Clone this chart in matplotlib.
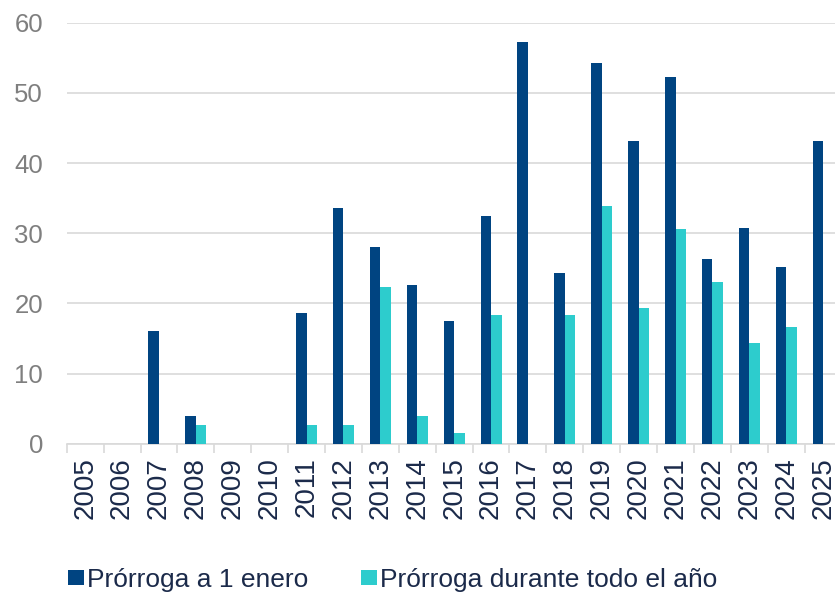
import matplotlib
matplotlib.use("Agg")
import matplotlib.pyplot as plt
from matplotlib.patches import Patch
import numpy as np

years = [str(y) for y in range(2005, 2026)]
prorroga_enero = [0, 0, 16.0, 3.9, 0, 0, 18.6, 33.6, 28.1, 22.6, 17.5,
                  32.4, 57.3, 24.3, 54.2, 43.2, 52.2, 26.3, 30.8, 25.2, 43.2]
prorroga_anio = [0, 0, 0, 2.6, 0, 0, 2.6, 2.6, 22.3, 3.9, 1.5,
                 18.4, 0, 18.4, 33.9, 19.3, 30.6, 23.0, 14.4, 16.6, 0]
series_labels = ["Prórroga a 1 enero", "Prórroga durante todo el año"]
yticks = [0, 10, 20, 30, 40, 50, 60]

navy = "#004481"
aqua = "#2dcccd"
text_dark = "#1b2a4a"
grid_grey = "#d9d9d9"

plt.rcParams["font.family"] = ["Liberation Sans", "DejaVu Sans"]

fig = plt.figure(figsize=(8.35, 5.93), dpi=100)
ax = fig.add_axes([66.7 / 835, 1 - 443.7 / 593, (841.6 - 66.7) / 835, (443.7 - 22.7) / 593])

x = np.arange(len(years))
w = 0.285
ax.bar(x - w / 2, prorroga_enero, width=w, color=navy, zorder=3)
ax.bar(x + w / 2, prorroga_anio, width=w, color=aqua, zorder=3)

ax.set_xlim(-0.5, len(years) - 0.5)
ax.set_ylim(0, 60)
ax.set_yticks(yticks)
ax.set_yticklabels([str(t) for t in yticks])
ax.yaxis.grid(True, color=grid_grey, linewidth=1.2, zorder=0)
ax.set_axisbelow(True)

for side in ("left", "right", "top"):
    ax.spines[side].set_visible(False)
ax.spines["bottom"].set_color(grid_grey)
ax.spines["bottom"].set_linewidth(1.2)

ax.tick_params(axis="y", length=0, pad=17, labelsize=18.5, labelcolor="#7f7f7f")
ax.set_xticks(x)
ax.set_xticklabels(years, rotation=90, fontsize=20, color=text_dark)
ax.tick_params(axis="x", which="major", length=0, pad=10)
ax.set_xticks(np.arange(-0.5, len(years), 1.0), minor=True)
ax.tick_params(axis="x", which="minor", length=6.5, width=1.2, color=grid_grey)

handles = [Patch(facecolor=navy, edgecolor="none"), Patch(facecolor=aqua, edgecolor="none")]
fig.legend(handles, series_labels, loc="center left",
           bbox_to_anchor=(68 / 835, 1 - 580 / 593), ncol=2, frameon=False,
           fontsize=19, labelcolor=text_dark, borderpad=0, borderaxespad=0,
           handlelength=0.6, handleheight=0.53, handletextpad=0.12,
           columnspacing=2.0)

fig.savefig("out.png", dpi=100)
